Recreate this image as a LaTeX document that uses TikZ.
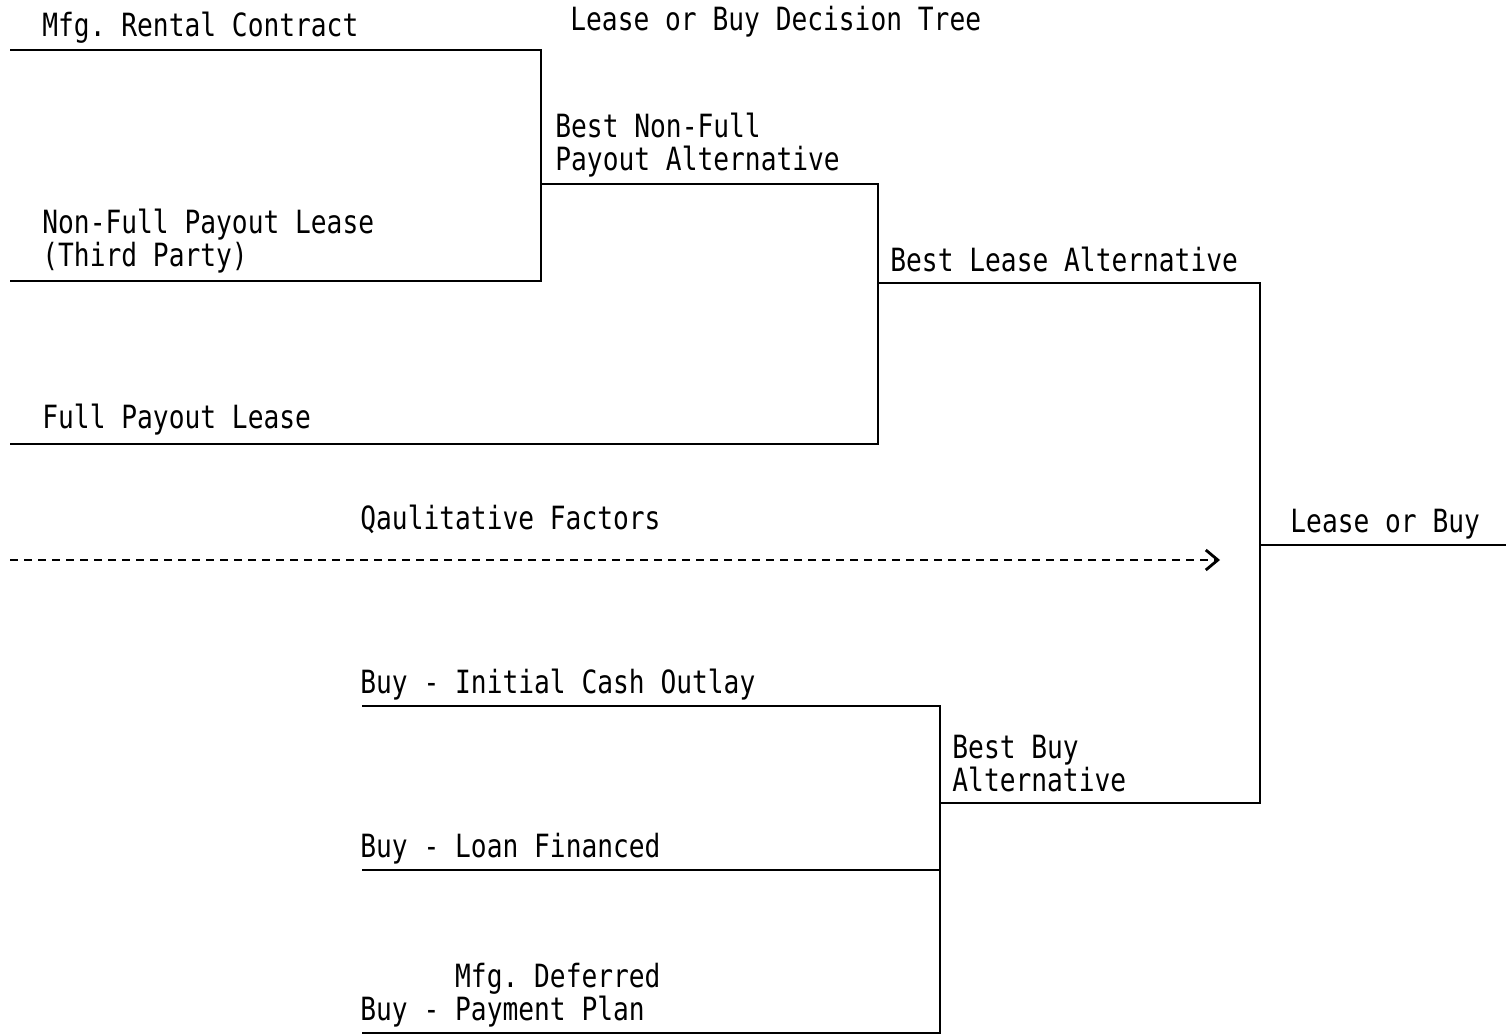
\documentclass[tikz,border=0pt]{standalone}
\usepackage{fontspec}
\setmonofont[FakeStretch=0.82]{DejaVu Sans Mono}
\usetikzlibrary{arrows.meta, positioning}

\begin{document}
\begin{tikzpicture}[x=0.5pt, y=-0.5pt,
    txt/.style={anchor=base west, inner sep=0pt, align=left,
                font=\ttfamily\fontsize{16}{16.5}\selectfont},
    branch/.style={line width=1pt},
    factor/.style={line width=1.2pt, dash pattern=on 4pt off 3pt,
                   -{Straight Barb[length=6pt, width=10pt, line width=1.4pt]}}]

    \useasboundingbox (0,0) rectangle (1506,1036);

    \node[txt] (title) at (570,31) {Lease or Buy Decision Tree};

    \node[txt] (rental) at (42,37) {Mfg. Rental Contract};
    \node[txt] (thirdparty) at (42,267) {Non-Full Payout Lease\\(Third Party)};
    \node[txt] (fullpayout) at (42,429) {Full Payout Lease};
    \node[txt] (bestnonfull) at (555,171) {Best Non-Full\\Payout Alternative};
    \node[txt] (bestlease) at (890,272) {Best Lease Alternative};
    \node[txt] (leaseorbuy) at (1290,533) {Lease or Buy};
    \node[txt] (qualitative) at (360,530) {Qaulitative Factors};
    \node[txt] (cashoutlay) at (360,694) {Buy - Initial Cash Outlay};
    \node[txt] (bestbuy) at (952,792) {Best Buy\\Alternative};
    \node[txt] (loanfin) at (360,858) {Buy - Loan Financed};
    \node[txt] (deferred) at (360,1021) {\hphantom{Buy - }Mfg. Deferred\\Buy - Payment Plan};

    \coordinate (rental-s) at (10,50);
    \coordinate (thirdparty-s) at (10,281);
    \coordinate (fullpayout-s) at (10,444);
    \coordinate (cashoutlay-s) at (362,706);
    \coordinate (loanfin-s) at (362,870);
    \coordinate (deferred-s) at (362,1033);
    \coordinate (bestnonfull-j) at (541,184);
    \coordinate (bestlease-j) at (878,283);
    \coordinate (bestbuy-j) at (940,803);
    \coordinate (leaseorbuy-j) at (1260,545);
    \coordinate (leaseorbuy-e) at (1506,545);
    \coordinate (qualitative-s) at (10,560);
    \coordinate (qualitative-e) at (1220,560);

    \draw[branch] (rental-s) -| (bestnonfull-j) |- (thirdparty-s);
    \draw[branch] (bestnonfull-j) -| (bestlease-j) |- (fullpayout-s);
    \draw[branch] (bestlease-j) -| (leaseorbuy-j) |- (bestbuy-j);
    \draw[branch] (leaseorbuy-j) -- (leaseorbuy-e);
    \draw[branch] (cashoutlay-s) -| (bestbuy-j) |- (deferred-s);
    \draw[branch] (loanfin-s) -- (loanfin-s -| bestbuy-j);
    \draw[factor] (qualitative-s) -- (qualitative-e);

\end{tikzpicture}
\end{document}
